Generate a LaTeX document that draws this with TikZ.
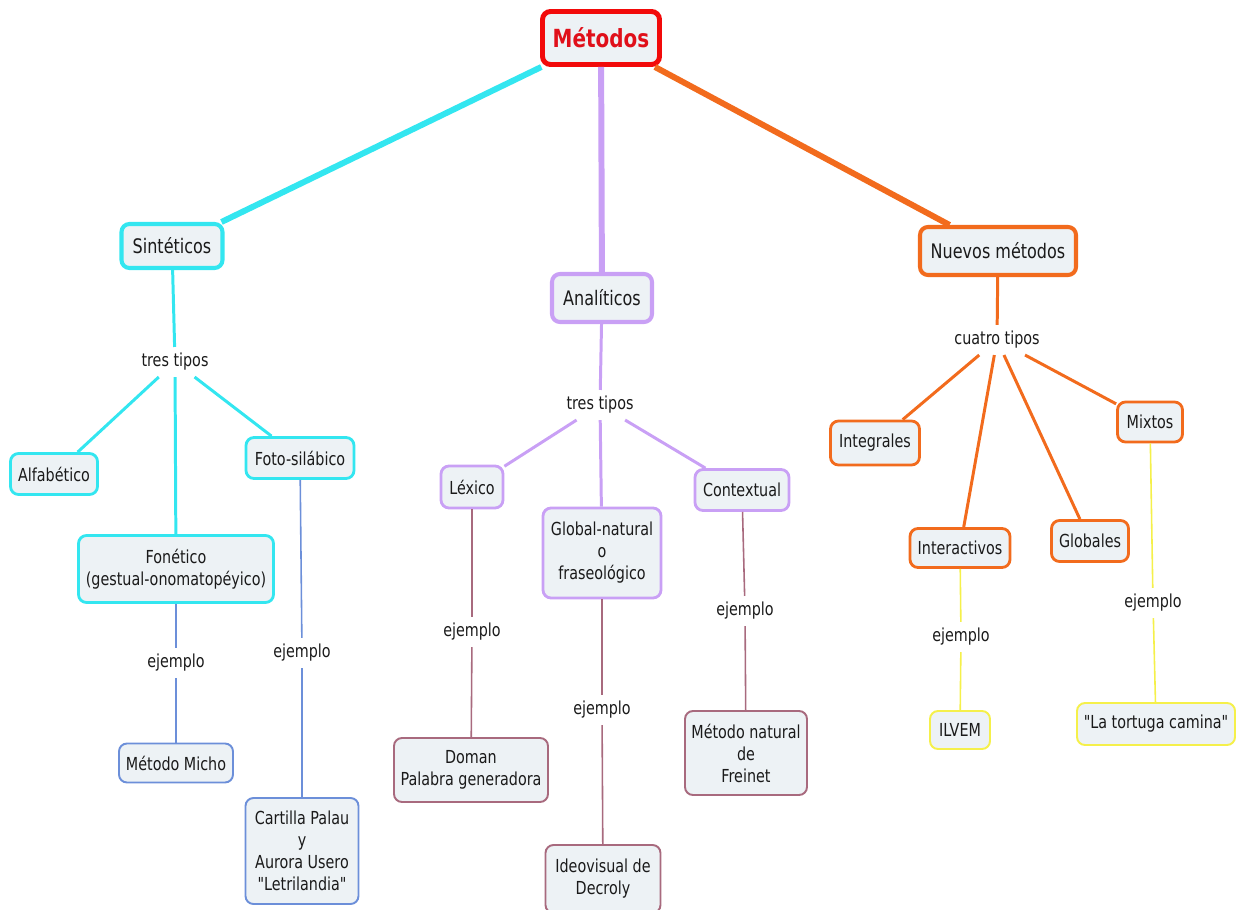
\documentclass[tikz,border=0pt]{standalone}
\usepackage{fontspec}
\setmainfont{DejaVu Sans}[FakeStretch=0.8, Ligatures=TeXOff]
\newcommand\fsA{\fontsize{10.2pt}{12.5pt}\selectfont}
\newcommand\fsB{\fontsize{11.4pt}{13.5pt}\selectfont}
\newcommand\fsC{\fontsize{14.2pt}{16pt}\selectfont\bfseries}
\definecolor{boxfill}{HTML}{EDF2F5}
\definecolor{cred}{HTML}{F20A0A}
\definecolor{ctext}{HTML}{E0101A}
\definecolor{ccyan}{HTML}{33E6F0}
\definecolor{clav}{HTML}{C9A0F5}
\definecolor{corange}{HTML}{F26B1D}
\definecolor{cblue}{HTML}{6C8FD9}
\definecolor{cmauve}{HTML}{A86A7E}
\definecolor{cyellow}{HTML}{F5F04A}
\definecolor{ctxt}{HTML}{1A1A1A}
\tikzset{
  box/.style={rounded corners=0.16cm, fill=boxfill, align=center, inner sep=0pt, text=ctxt},
  sz/.style 2 args={minimum width=#1*0.02cm, minimum height=#2*0.02cm},
  topbox/.style={box, draw=cred, line width=2.8pt, font=\fsC, text=ctext},
  lvone/.style={box, draw=#1, line width=2.3pt, font=\fsB},
  lvtwo/.style={box, draw=#1, line width=1.6pt, font=\fsA},
  leaf/.style={box, draw=#1, line width=1.1pt, font=\fsA},
  lbl/.style={font=\fsA, text=ctxt, inner xsep=0.06cm, inner ysep=0.12cm},
  lnA/.style={draw=#1, line width=3.4pt},
  lnB/.style={draw=#1, line width=1.7pt},
  lnC/.style={draw=#1, line width=0.9pt},
}
\begin{document}
\begin{tikzpicture}[x=0.02cm, y=-0.02cm]
\useasboundingbox (0,0) rectangle (1243,909);
% top
\node[topbox, sz={117}{53}] (met) at (601,38) {Métodos};
% level one
\node[lvone=ccyan, sz={101}{44}] (sin) at (172,246) {Sintéticos};
\node[lvone=clav, sz={100}{48}] (ana) at (602,298) {Analíticos};
\node[lvone=corange, sz={156}{48}] (nue) at (998,251) {Nuevos métodos};
% labels
\node[lbl] (t1) at (175,362) {tres tipos};
\node[lbl] (t2) at (600,405) {tres tipos};
\node[lbl] (t3) at (997,340) {cuatro tipos};
% Sinteticos children
\node[lvtwo=ccyan, sz={87}{41}] (alf) at (54,474) {Alfabético};
\node[lvtwo=ccyan, sz={108}{41}] (foto) at (300,458) {Foto-silábico};
\node[lvtwo=ccyan, sz={195}{67}] (fon) at (176,569) {Fonético\\(gestual-onomatopéyico)};
\node[lbl] (e1) at (176,663) {ejemplo};
\node[leaf=cblue, sz={114}{39}] (micho) at (176,763) {Método Micho};
\node[lbl] (e2) at (302,653) {ejemplo};
\node[leaf=cblue, sz={113}{106}] (cart) at (302,851) {Cartilla Palau\\y\\Aurora Usero\\"Letrilandia"};
% Analiticos children
\node[lvtwo=clav, sz={62}{42}] (lex) at (472,487) {Léxico};
\node[lvtwo=clav, sz={118}{90}] (glo) at (602,553) {Global-natural\\o\\fraseológico};
\node[lvtwo=clav, sz={94}{41}] (con) at (742,490) {Contextual};
\node[lbl] (e3) at (472,632) {ejemplo};
\node[leaf=cmauve, sz={154}{64}] (dom) at (471,770) {Doman\\Palabra generadora};
\node[lbl] (e4) at (602,710) {ejemplo};
\node[leaf=cmauve, sz={115}{68}] (ideo) at (603,879) {Ideovisual de\\Decroly};
\node[lbl] (e5) at (745,611) {ejemplo};
\node[leaf=cmauve, sz={122}{84}] (frei) at (746,753) {Método natural\\de\\Freinet};
% Nuevos children
\node[lvtwo=corange, sz={89}{44}] (integ) at (875,443) {Integrales};
\node[lvtwo=corange, sz={65}{40}] (mix) at (1150,422) {Mixtos};
\node[lvtwo=corange, sz={100}{39}] (inter) at (960,548) {Interactivos};
\node[lvtwo=corange, sz={77}{41}] (glob) at (1090,541) {Globales};
\node[lbl] (e6) at (961,637) {ejemplo};
\node[leaf=cyellow, sz={60}{38}] (ilv) at (960,730) {ILVEM};
\node[lbl] (e7) at (1153,603) {ejemplo};
\node[leaf=cyellow, sz={158}{42}] (tort) at (1156,724) {"La tortuga camina"};
% connectors
\draw[lnA=ccyan] (met) -- (sin);
\draw[lnA=clav] (met) -- (ana);
\draw[lnA=corange] (met) -- (nue);
\draw[lnB=ccyan] (sin) -- (t1);
\draw[lnB=ccyan] (t1) -- (alf);
\draw[lnB=ccyan] (t1) -- (fon);
\draw[lnB=ccyan] (t1) -- (foto);
\draw[lnC=cblue] (fon) -- (e1);
\draw[lnC=cblue] (e1) -- (micho);
\draw[lnC=cblue] (foto) -- (e2);
\draw[lnC=cblue] (e2) -- (cart);
\draw[lnB=clav] (ana) -- (t2);
\draw[lnB=clav] (t2) -- (lex);
\draw[lnB=clav] (t2) -- (glo);
\draw[lnB=clav] (t2) -- (con);
\draw[lnC=cmauve] (lex) -- (e3);
\draw[lnC=cmauve] (e3) -- (dom);
\draw[lnC=cmauve] (glo) -- (e4);
\draw[lnC=cmauve] (e4) -- (ideo);
\draw[lnC=cmauve] (con) -- (e5);
\draw[lnC=cmauve] (e5) -- (frei);
\draw[lnB=corange] (nue) -- (t3);
\draw[lnB=corange] (t3) -- (integ);
\draw[lnB=corange] (t3) -- (inter);
\draw[lnB=corange] (t3) -- (glob);
\draw[lnB=corange] (t3) -- (mix);
\draw[lnC=cyellow] (inter) -- (e6);
\draw[lnC=cyellow] (e6) -- (ilv);
\draw[lnC=cyellow] (mix) -- (e7);
\draw[lnC=cyellow] (e7) -- (tort);
\end{tikzpicture}
\end{document}
